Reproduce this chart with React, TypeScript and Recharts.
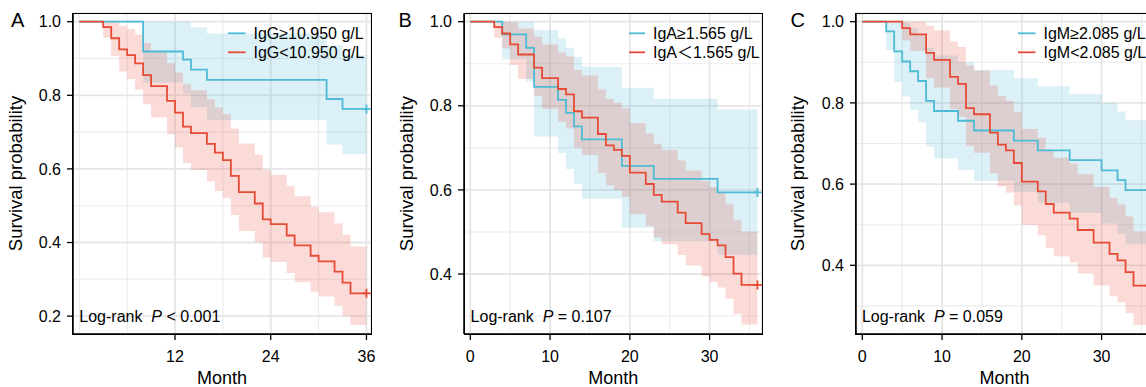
import React from 'react';
import {
  ComposedChart,
  Line,
  Area,
  Scatter,
  XAxis,
  YAxis,
  CartesianGrid,
  Legend,
} from 'recharts';

const FONT = "'Liberation Sans', Arial, 'Noto Sans CJK SC', sans-serif";
const BLUE = '#4DBBD5';
const RED = '#E64B35';

// Panel A - IgG
const igGHighTime = [0, 8, 13, 14, 16, 31, 33, 36];
const igGHighSurv = [1, 0.919, 0.897, 0.87, 0.842, 0.79, 0.763, 0.763];
const igGHighLower = [1, 0.835, 0.804, 0.768, 0.732, 0.666, 0.64, 0.64];
const igGHighUpper = [1, 1, 1, 0.985, 0.968, 0.936, 0.909, 0.909];

const igGLowTime = [0, 3, 4, 5, 6, 7, 8, 9, 11, 12, 13, 14, 16, 17, 18, 19, 20, 22, 23, 24, 26, 27, 29, 30, 32, 33, 34, 36];
const igGLowSurv = [1, 0.985, 0.955, 0.925, 0.909, 0.887, 0.855, 0.825, 0.785, 0.753, 0.715, 0.697, 0.668, 0.644, 0.624, 0.581, 0.537, 0.506, 0.463, 0.45, 0.419, 0.392, 0.364, 0.349, 0.321, 0.291, 0.262, 0.262];
const igGLowLower = [1, 0.957, 0.907, 0.865, 0.844, 0.815, 0.776, 0.74, 0.694, 0.658, 0.616, 0.597, 0.566, 0.54, 0.52, 0.475, 0.431, 0.401, 0.359, 0.347, 0.317, 0.292, 0.266, 0.253, 0.228, 0.201, 0.176, 0.176];
const igGLowUpper = [1, 1, 1, 0.989, 0.98, 0.965, 0.942, 0.92, 0.888, 0.862, 0.83, 0.814, 0.789, 0.767, 0.749, 0.71, 0.669, 0.639, 0.597, 0.584, 0.553, 0.526, 0.497, 0.482, 0.452, 0.421, 0.389, 0.389];

// Panel B - IgA
const igAHighTime = [0, 4, 7, 8, 11, 12, 13, 14, 19, 23, 31, 36];
const igAHighSurv = [1, 0.97, 0.938, 0.845, 0.814, 0.783, 0.751, 0.72, 0.657, 0.626, 0.594, 0.594];
const igAHighLower = [1, 0.911, 0.857, 0.727, 0.688, 0.65, 0.614, 0.579, 0.51, 0.478, 0.446, 0.446];
const igAHighUpper = [1, 1, 1, 0.98, 0.96, 0.938, 0.916, 0.893, 0.843, 0.817, 0.791, 0.791];

const igALowTime = [0, 3, 4, 5, 6, 8, 9, 11, 12, 13, 14, 16, 17, 18, 19, 20, 22, 23, 24, 26, 27, 29, 30, 31, 32, 33, 34, 36];
const igALowSurv = [1, 0.987, 0.972, 0.946, 0.922, 0.891, 0.866, 0.84, 0.827, 0.787, 0.772, 0.733, 0.706, 0.695, 0.681, 0.641, 0.614, 0.588, 0.572, 0.546, 0.521, 0.495, 0.481, 0.468, 0.44, 0.401, 0.374, 0.374];
const igALowLower = [1, 0.962, 0.936, 0.897, 0.864, 0.824, 0.793, 0.762, 0.746, 0.7, 0.683, 0.64, 0.611, 0.599, 0.584, 0.542, 0.514, 0.487, 0.471, 0.445, 0.42, 0.394, 0.381, 0.368, 0.341, 0.305, 0.28, 0.28];
const igALowUpper = [1, 1, 1, 0.998, 0.984, 0.964, 0.946, 0.927, 0.917, 0.885, 0.872, 0.839, 0.816, 0.807, 0.794, 0.759, 0.734, 0.71, 0.695, 0.67, 0.646, 0.621, 0.607, 0.595, 0.567, 0.528, 0.501, 0.501];

// Panel C - IgM
const igMHighTime = [0, 3, 4, 5, 6, 7, 8, 9, 12, 14, 19, 22, 26, 30, 32, 33, 36];
const igMHighSurv = [1, 0.976, 0.927, 0.902, 0.878, 0.854, 0.805, 0.78, 0.756, 0.732, 0.707, 0.683, 0.659, 0.634, 0.61, 0.585, 0.585];
const igMHighLower = [1, 0.93, 0.851, 0.816, 0.783, 0.752, 0.692, 0.663, 0.635, 0.608, 0.581, 0.554, 0.529, 0.503, 0.477, 0.452, 0.452];
const igMHighUpper = [1, 1, 1, 0.998, 0.984, 0.969, 0.936, 0.917, 0.9, 0.881, 0.861, 0.841, 0.822, 0.8, 0.779, 0.757, 0.757];

const igMLowTime = [0, 5, 6, 8, 9, 11, 12, 13, 14, 16, 17, 18, 19, 20, 22, 23, 24, 26, 27, 29, 31, 32, 33, 34, 36];
const igMLowSurv = [1, 0.984, 0.969, 0.923, 0.906, 0.864, 0.847, 0.787, 0.772, 0.727, 0.697, 0.683, 0.652, 0.606, 0.582, 0.551, 0.53, 0.515, 0.487, 0.456, 0.428, 0.412, 0.383, 0.35, 0.35];
const igMLowLower = [1, 0.954, 0.928, 0.861, 0.838, 0.785, 0.765, 0.694, 0.677, 0.627, 0.594, 0.579, 0.547, 0.499, 0.474, 0.443, 0.422, 0.407, 0.38, 0.35, 0.324, 0.309, 0.282, 0.253, 0.253];
const igMLowUpper = [1, 1, 1, 0.99, 0.979, 0.951, 0.938, 0.892, 0.88, 0.843, 0.817, 0.805, 0.778, 0.736, 0.714, 0.685, 0.665, 0.651, 0.624, 0.593, 0.566, 0.55, 0.52, 0.484, 0.484];

// axis ticks
const monthTicksA = [12, 24, 36];
const monthMinorA = [0, 6, 18, 30];
const monthTicks = [0, 10, 20, 30];
const monthMinor = [5, 15, 25, 35];
const probTicksA = [0.2, 0.4, 0.6, 0.8, 1.0];
const probTicks = [0.4, 0.6, 0.8, 1.0];
const probMinor = [0.3, 0.5, 0.7, 0.9];

const X_DOMAIN: [number, number] = [-0.79, 36.57];
const CHART_W = 390;
const CHART_H = 387;
// plot box inside each chart (from margin + axis sizes below)
const PLOT = { left: 73, top: 13.3, right: 371, bottom: 334 };
const FRAME_W = 1.5;
const BORDER = { stroke: '#000', strokeWidth: FRAME_W };
const TICK_LINE = { stroke: '#000', strokeWidth: 1.3 };
const TICK_TEXT = { fontSize: 16, fill: '#000', fontFamily: FONT };

const toRows = (time: number[], surv: number[], lower: number[], upper: number[]) =>
  time.map((t, i) => ({ t, s: surv[i], band: [lower[i], upper[i]] }));

const censorMark = (color: string) => (props: any) => {
  const { cx, cy } = props;
  if (cx == null || cy == null) return <g />;
  return (
    <g>
      <line x1={cx - 4.5} y1={cy} x2={cx + 4.5} y2={cy} stroke={color} strokeWidth={1.8} />
      <line x1={cx} y1={cy - 4.5} x2={cx} y2={cy + 4.5} stroke={color} strokeWidth={1.8} />
    </g>
  );
};

const panels = [
  {
    letter: 'A',
    letterX: 11,
    left: 0,
    yDomain: [0.1514, 1.0228],
    xTicks: monthTicksA,
    xMinor: monthMinorA,
    yTicks: probTicksA,
    high: { label: 'IgG≥10.950 g/L', rows: toRows(igGHighTime, igGHighSurv, igGHighLower, igGHighUpper) },
    low: { label: 'IgG<10.950 g/L', rows: toRows(igGLowTime, igGLowSurv, igGLowLower, igGLowUpper) },
    pText: ' < 0.001',
    keyLeft: 228,
    textLeft: 253.5,
  },
  {
    letter: 'B',
    letterX: 398.5,
    left: 391.3,
    yDomain: [0.2573, 1.02],
    xTicks: monthTicks,
    xMinor: monthMinor,
    yTicks: probTicks,
    high: { label: 'IgA≥1.565 g/L', rows: toRows(igAHighTime, igAHighSurv, igAHighLower, igAHighUpper) },
    low: { label: 'IgA＜1.565 g/L', rows: toRows(igALowTime, igALowSurv, igALowLower, igALowUpper) },
    pText: ' = 0.107',
    keyLeft: 238,
    textLeft: 262,
  },
  {
    letter: 'C',
    letterX: 790.5,
    left: 782.6,
    yDomain: [0.2308, 1.0207],
    xTicks: monthTicks,
    xMinor: monthMinor,
    yTicks: probTicks,
    high: { label: 'IgM≥2.085 g/L', rows: toRows(igMHighTime, igMHighSurv, igMHighLower, igMHighUpper) },
    low: { label: 'IgM<2.085 g/L', rows: toRows(igMLowTime, igMLowSurv, igMLowLower, igMLowUpper) },
    pText: ' = 0.059',
    keyLeft: 235,
    textLeft: 260.5,
  },
];

const KMPanel = ({ p }: { p: (typeof panels)[number] }) => {
  const lastHigh = p.high.rows[p.high.rows.length - 1];
  const lastLow = p.low.rows[p.low.rows.length - 1];
  const keyLen = p.textLeft - p.keyLeft - 8;
  return (
    <div style={{ position: 'absolute', left: p.left, top: 0, width: CHART_W, height: CHART_H }}>
      <ComposedChart
        width={CHART_W}
        height={CHART_H}
        margin={{ top: PLOT.top, right: CHART_W - PLOT.right, bottom: 0, left: 0 }}
      >
        {/* minor grid from hidden axes, major grid from the visible ones */}
        <CartesianGrid xAxisId="minor" yAxisId="minor" stroke="#ececec" strokeWidth={1.1} />
        <CartesianGrid stroke="#e6e6e6" strokeWidth={1.8} />
        <XAxis
          type="number"
          dataKey="t"
          domain={X_DOMAIN}
          ticks={p.xTicks}
          interval={0}
          allowDataOverflow
          height={CHART_H - PLOT.bottom}
          tickSize={6}
          tickMargin={11}
          stroke="#000"
          axisLine={BORDER}
          tickLine={TICK_LINE}
          tick={TICK_TEXT}
        />
        <XAxis xAxisId="minor" type="number" dataKey="t" domain={X_DOMAIN} ticks={p.xMinor} interval={0} allowDataOverflow hide />
        <YAxis
          type="number"
          domain={p.yDomain}
          ticks={p.yTicks}
          interval={0}
          allowDataOverflow
          width={PLOT.left}
          tickSize={6}
          tickMargin={6}
          stroke="#000"
          axisLine={BORDER}
          tickFormatter={(v: number) => v.toFixed(1)}
          tickLine={TICK_LINE}
          tick={TICK_TEXT}
        />
        <YAxis yAxisId="minor" type="number" domain={p.yDomain} ticks={probMinor} interval={0} allowDataOverflow hide />

        <Area data={p.high.rows} type="stepAfter" dataKey="band" stroke="none" fill={BLUE} fillOpacity={0.2} isAnimationActive={false} />
        <Area data={p.low.rows} type="stepAfter" dataKey="band" stroke="none" fill={RED} fillOpacity={0.2} isAnimationActive={false} />
        <Line data={p.high.rows} type="stepAfter" dataKey="s" stroke={BLUE} strokeWidth={1.8} dot={false} isAnimationActive={false} />
        <Line data={p.low.rows} type="stepAfter" dataKey="s" stroke={RED} strokeWidth={1.8} dot={false} isAnimationActive={false} />
        <Scatter data={[lastHigh]} dataKey="s" shape={censorMark(BLUE)} isAnimationActive={false} />
        <Scatter data={[lastLow]} dataKey="s" shape={censorMark(RED)} isAnimationActive={false} />

        <Legend
          layout="vertical"
          align="center"
          verticalAlign="middle"
          wrapperStyle={{ left: p.keyLeft, top: 24, width: 170, height: 40 }}
          content={() => (
            <svg width={170} height={40} style={{ overflow: 'visible', display: 'block' }}>
              {[p.high, p.low].map((g, i) => (
                <g key={g.label}>
                  <line x1={0} x2={keyLen} y1={9.3 + i * 19} y2={9.3 + i * 19} stroke={i === 0 ? BLUE : RED} strokeWidth={1.8} />
                  <text x={p.textLeft - p.keyLeft} y={15.2 + i * 19} fontSize={16} fontFamily={FONT} fill="#000">
                    {g.label}
                  </text>
                </g>
              ))}
            </svg>
          )}
        />
      </ComposedChart>
    </div>
  );
};

export default function App() {
  return (
    <div style={{ position: 'fixed', left: 0, top: 0, width: 1146, height: 387, overflow: 'hidden', background: '#fff' }}>
      {panels.map((p) => (
        <KMPanel key={p.letter} p={p} />
      ))}
      {/* panel frames (panel.border) */}
      {panels.map((p) => (
        <div
          key={`frame-${p.letter}`}
          style={{
            position: 'absolute',
            left: p.left + PLOT.left - FRAME_W / 2,
            top: PLOT.top - FRAME_W / 2,
            width: PLOT.right - PLOT.left + FRAME_W,
            height: PLOT.bottom - PLOT.top + FRAME_W,
            border: `${FRAME_W}px solid #000`,
            boxSizing: 'border-box',
            pointerEvents: 'none',
          }}
        />
      ))}
      <svg width={1146} height={387} style={{ position: 'absolute', left: 0, top: 0, pointerEvents: 'none' }} fontFamily={FONT}>
        {panels.map((p) => (
          <g key={p.letter}>
            <text x={p.letterX} y={27.3} fontSize={20} fill="#000">
              {p.letter}
            </text>
            <text
              x={p.left + 21.5}
              y={173.5}
              fontSize={18.5}
              fill="#000"
              textAnchor="middle"
              transform={`rotate(-90 ${p.left + 21.5} 173.5)`}
            >
              Survival probability
            </text>
            <text x={p.left + 222} y={383.5} fontSize={18} fill="#000" textAnchor="middle">
              Month
            </text>
            <text x={p.left + 79.3} y={321.5} fontSize={16} fill="#000" style={{ whiteSpace: 'pre' }}>
              {'Log-rank  '}
              <tspan fontStyle="italic">P</tspan>
              {p.pText}
            </text>
          </g>
        ))}
      </svg>
    </div>
  );
}
